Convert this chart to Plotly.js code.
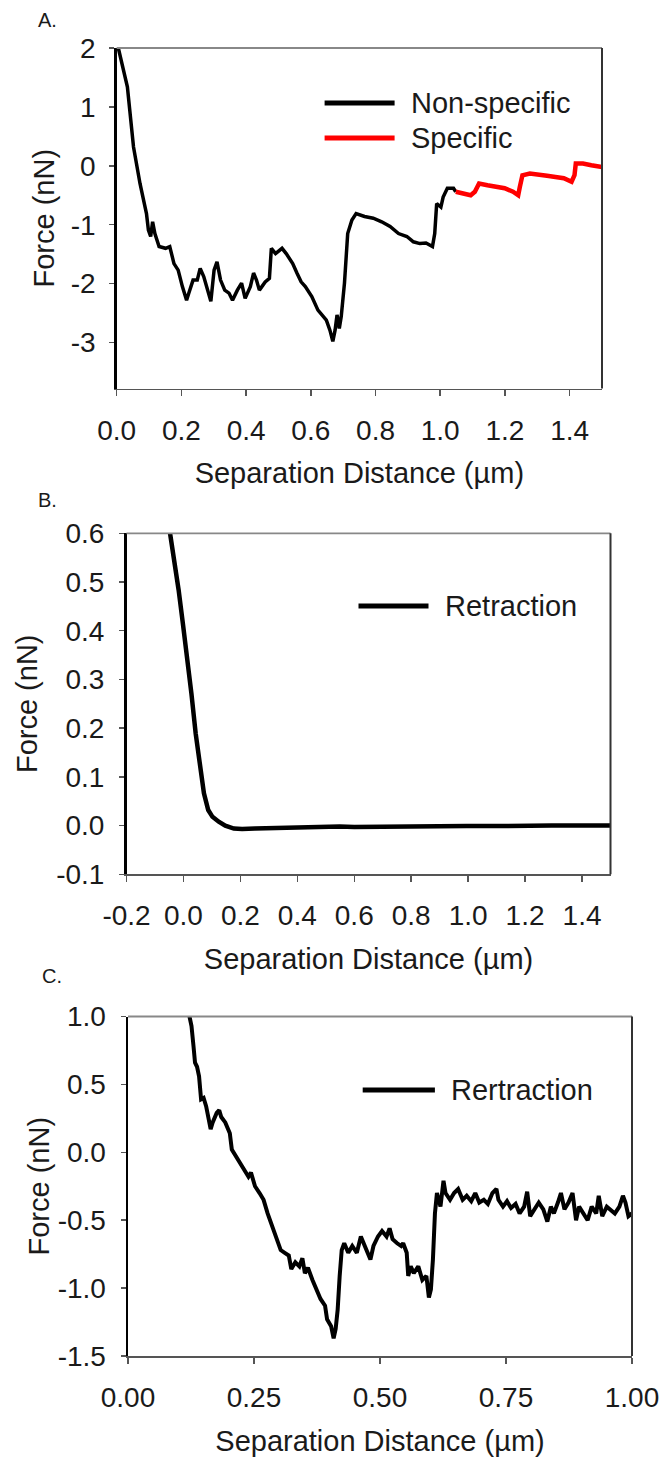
<!DOCTYPE html>
<html><head><meta charset="utf-8">
<script src="https://cdn.plot.ly/plotly-3.0.1.min.js"></script>
<style>html,body{margin:0;padding:0;background:#fff}#chart{width:665px;height:1461px}</style>
</head><body><div id="chart"></div>
<script>
// ---------- Panel A data ----------
const A_nonspecific_x = [0.005,0.015,0.033,0.052,0.072,0.092,0.098,0.105,0.111,0.118,0.131,0.151,0.164,0.177,0.19,0.203,0.216,0.223,0.236,0.249,0.258,0.269,0.282,0.291,0.301,0.31,0.321,0.334,0.347,0.358,0.373,0.386,0.397,0.413,0.423,0.432,0.441,0.459,0.472,0.478,0.491,0.511,0.524,0.544,0.557,0.57,0.583,0.603,0.622,0.635,0.648,0.659,0.668,0.675,0.681,0.688,0.694,0.704,0.714,0.727,0.74,0.766,0.793,0.819,0.845,0.871,0.897,0.917,0.937,0.956,0.976,0.983,0.989,1.002,1.009,1.022,1.041,1.048];
const A_nonspecific_y = [2.0,1.75,1.34,0.32,-0.30,-0.81,-1.09,-1.20,-0.95,-1.15,-1.37,-1.40,-1.37,-1.66,-1.77,-2.05,-2.28,-2.16,-1.94,-1.94,-1.74,-1.88,-2.16,-2.30,-1.77,-1.63,-1.94,-2.11,-2.16,-2.28,-2.11,-1.99,-2.25,-2.05,-1.82,-1.94,-2.11,-1.97,-1.91,-1.40,-1.49,-1.40,-1.49,-1.66,-1.82,-1.97,-2.05,-2.22,-2.45,-2.53,-2.62,-2.79,-2.98,-2.79,-2.53,-2.76,-2.56,-1.99,-1.15,-0.92,-0.81,-0.86,-0.89,-0.95,-1.03,-1.15,-1.20,-1.29,-1.32,-1.31,-1.37,-1.15,-0.64,-0.70,-0.53,-0.38,-0.38,-0.44];
const A_specific_x = [1.048,1.068,1.094,1.107,1.12,1.146,1.173,1.199,1.225,1.241,1.246,1.254,1.277,1.304,1.33,1.356,1.382,1.406,1.415,1.419,1.441,1.467,1.5];
const A_specific_y = [-0.44,-0.47,-0.50,-0.44,-0.30,-0.33,-0.36,-0.38,-0.44,-0.50,-0.36,-0.16,-0.13,-0.16,-0.17,-0.19,-0.21,-0.27,-0.16,0.04,0.04,0.01,-0.02];
const A_xtickvals = [0,0.2,0.4,0.6,0.8,1.0,1.2,1.4];
const A_xticktext = ["0.0","0.2","0.4","0.6","0.8","1.0","1.2","1.4"];
const A_ytickvals = [-3,-2,-1,0,1,2];
const A_yticktext = ["-3","-2","-1","0","1","2"];
const A_names = ["Non-specific","Specific"];

// ---------- Panel B data ----------
const B_x = [-0.047,-0.032,-0.017,-0.002,0.013,0.028,0.043,0.057,0.072,0.087,0.102,0.124,0.147,0.177,0.206,0.251,0.30,0.40,0.50,0.549,0.60,0.697,0.80,0.846,0.90,0.995,1.05,1.144,1.20,1.293,1.40,1.5];
const B_y = [0.6,0.545,0.484,0.415,0.347,0.271,0.189,0.121,0.066,0.032,0.018,0.008,0.0,-0.006,-0.007,-0.006,-0.005,-0.004,-0.003,-0.002,-0.003,-0.002,-0.002,-0.001,-0.002,-0.001,-0.001,0.0,-0.001,0.0,0.0,0.0];
const B_xtickvals = [-0.2,0,0.2,0.4,0.6,0.8,1.0,1.2,1.4];
const B_xticktext = ["-0.2","0.0","0.2","0.4","0.6","0.8","1.0","1.2","1.4"];
const B_ytickvals = [-0.1,0,0.1,0.2,0.3,0.4,0.5,0.6];
const B_yticktext = ["-0.1","0.0","0.1","0.2","0.3","0.4","0.5","0.6"];
const B_name = "Retraction";

// ---------- Panel C data ----------
const C_x = [0.122,0.126,0.13,0.133,0.137,0.141,0.145,0.15,0.155,0.16,0.164,0.168,0.176,0.181,0.185,0.193,0.202,0.206,0.214,0.223,0.231,0.239,0.244,0.252,0.261,0.269,0.277,0.286,0.294,0.303,0.311,0.319,0.324,0.332,0.34,0.346,0.351,0.357,0.366,0.374,0.382,0.391,0.395,0.403,0.408,0.412,0.416,0.42,0.424,0.429,0.437,0.445,0.454,0.462,0.469,0.475,0.481,0.487,0.496,0.504,0.513,0.519,0.525,0.534,0.542,0.546,0.553,0.556,0.561,0.567,0.576,0.584,0.592,0.597,0.601,0.605,0.609,0.613,0.62,0.626,0.63,0.639,0.647,0.655,0.664,0.672,0.681,0.689,0.697,0.706,0.714,0.723,0.731,0.735,0.744,0.752,0.76,0.769,0.777,0.786,0.792,0.798,0.807,0.815,0.824,0.832,0.839,0.845,0.853,0.859,0.866,0.874,0.882,0.889,0.895,0.903,0.912,0.92,0.929,0.934,0.941,0.95,0.958,0.966,0.975,0.982,0.987,0.993,1.0];
const C_y = [1.0,0.93,0.78,0.66,0.63,0.56,0.39,0.40,0.34,0.24,0.17,0.22,0.29,0.31,0.26,0.22,0.14,0.02,-0.03,-0.08,-0.13,-0.18,-0.15,-0.25,-0.30,-0.35,-0.45,-0.54,-0.62,-0.72,-0.74,-0.76,-0.86,-0.81,-0.84,-0.78,-0.89,-0.85,-0.94,-1.01,-1.08,-1.13,-1.23,-1.28,-1.37,-1.30,-1.16,-0.91,-0.72,-0.67,-0.74,-0.69,-0.74,-0.62,-0.69,-0.74,-0.79,-0.69,-0.62,-0.58,-0.62,-0.56,-0.64,-0.67,-0.69,-0.67,-0.74,-0.91,-0.84,-0.89,-0.84,-0.94,-0.91,-1.07,-1.01,-0.79,-0.45,-0.30,-0.40,-0.21,-0.30,-0.35,-0.30,-0.27,-0.35,-0.32,-0.36,-0.30,-0.37,-0.35,-0.38,-0.30,-0.27,-0.35,-0.40,-0.36,-0.41,-0.38,-0.45,-0.40,-0.29,-0.47,-0.41,-0.37,-0.42,-0.51,-0.40,-0.45,-0.37,-0.30,-0.42,-0.37,-0.30,-0.50,-0.40,-0.45,-0.50,-0.40,-0.45,-0.32,-0.47,-0.40,-0.43,-0.45,-0.40,-0.32,-0.37,-0.47,-0.45];
const C_xtickvals = [0,0.25,0.5,0.75,1.0];
const C_xticktext = ["0.00","0.25","0.50","0.75","1.00"];
const C_ytickvals = [-1.5,-1.0,-0.5,0,0.5,1.0];
const C_yticktext = ["-1.5","-1.0","-0.5","0.0","0.5","1.0"];
const C_name = "Rertraction";

const axisTitleX = "Separation Distance (\u00b5m)";
const axisTitleY = "Force (nN)";
const panelLabels = ["A.","B.","C."];

// ---------- layout helpers ----------
const W = 665, H = 1461;
const fx = p => p / W;
const fy = p => 1 - p / H;
const FONT = '"Liberation Sans", Arial, Helvetica, sans-serif';
const TXT = '#1a1a1a';

function xAxis(dom, range, tv, tt, anchor) {
  return {domain: dom, range: range, anchor: anchor, tickmode: 'array', tickvals: tv, ticktext: tt,
    showgrid: false, zeroline: false, showline: true, linecolor: '#555', linewidth: 1.5,
    ticks: 'outside', ticklen: 6, tickwidth: 1.5, tickcolor: '#555', ticklabelstandoff: 10,
    tickfont: {family: FONT, size: 28, color: TXT},
    title: {text: axisTitleX, font: {family: FONT, size: 29, color: TXT}, standoff: 18},
    fixedrange: true};
}
function yAxis(dom, range, tv, tt, anchor, standoff, lso) {
  return {domain: dom, range: range, anchor: anchor, tickmode: 'array', tickvals: tv, ticktext: tt,
    showgrid: false, zeroline: false, showline: true, linecolor: '#000', linewidth: 2.5,
    ticks: 'outside', ticklen: 5, tickwidth: 1.5, tickcolor: '#555', ticklabelstandoff: lso,
    tickfont: {family: FONT, size: 28, color: TXT},
    title: {text: axisTitleY, font: {family: FONT, size: 29, color: TXT}, standoff: standoff},
    fixedrange: true};
}

const traces = [
  {x: A_nonspecific_x, y: A_nonspecific_y, name: A_names[0], mode: 'lines', line: {color: '#000', width: 3.5}, xaxis: 'x', yaxis: 'y', showlegend: false},
  {x: A_specific_x, y: A_specific_y, name: A_names[1], mode: 'lines', line: {color: '#ff0000', width: 4.5}, xaxis: 'x', yaxis: 'y', showlegend: false},
  {x: B_x, y: B_y, name: B_name, mode: 'lines', line: {color: '#000', width: 4.5}, xaxis: 'x2', yaxis: 'y2', showlegend: false},
  {x: C_x, y: C_y, name: C_name, mode: 'lines', line: {color: '#000', width: 4}, xaxis: 'x3', yaxis: 'y3', showlegend: false}
];

// frame pixel boxes
const boxA = {l: 116.7, r: 602, t: 48, b: 388.5};
const boxB = {l: 126.5, r: 610.5, t: 533.3, b: 874.3};
const boxC = {l: 128, r: 632, t: 1016.5, b: 1356};

function frame(ax, ay) {
  return [
    {type: 'line', xref: ax + ' domain', yref: ay + ' domain', x0: 0, x1: 1, y0: 1, y1: 1, line: {color: '#888', width: 1.8}},
    {type: 'line', xref: ax + ' domain', yref: ay + ' domain', x0: 1, x1: 1, y0: 0, y1: 1, line: {color: '#333', width: 2}}
  ];
}
function legendKey(x0, x1, y, color) {
  return {type: 'line', xref: 'paper', yref: 'paper', x0: fx(x0), x1: fx(x1), y0: fy(y), y1: fy(y), line: {color: color, width: 5}};
}
function legendText(x, y, text) {
  return {xref: 'paper', yref: 'paper', x: fx(x), y: fy(y), xanchor: 'left', yanchor: 'middle', showarrow: false,
    text: text, font: {family: FONT, size: 29, color: TXT}};
}
function panelLabel(x, y, text) {
  return {xref: 'paper', yref: 'paper', x: fx(x), y: fy(y), xanchor: 'left', yanchor: 'middle', showarrow: false,
    text: text, font: {family: FONT, size: 20, color: TXT}};
}

const layout = {
  width: W, height: H, margin: {l: 0, r: 0, t: 0, b: 0},
  paper_bgcolor: '#fff', plot_bgcolor: '#fff', showlegend: false,
  xaxis: xAxis([fx(boxA.l), fx(boxA.r)], [0, 1.5], A_xtickvals, A_xticktext, 'y'),
  yaxis: yAxis([fy(boxA.b), fy(boxA.t)], [-3.78, 2], A_ytickvals, A_yticktext, 'x', 8, 8),
  xaxis2: xAxis([fx(boxB.l), fx(boxB.r)], [-0.2, 1.5], B_xtickvals, B_xticktext, 'y2'),
  yaxis2: yAxis([fy(boxB.b), fy(boxB.t)], [-0.1, 0.6], B_ytickvals, B_yticktext, 'x2', 10, 9),
  xaxis3: xAxis([fx(boxC.l), fx(boxC.r)], [0, 1.0], C_xtickvals, C_xticktext, 'y3'),
  yaxis3: yAxis([fy(boxC.b), fy(boxC.t)], [-1.5, 1.0], C_ytickvals, C_yticktext, 'x3', 0, 9),
  shapes: [].concat(frame('x', 'y'), frame('x2', 'y2'), frame('x3', 'y3'), [
    legendKey(324.6, 394.6, 103, '#000'),
    legendKey(324.6, 394.6, 138, '#ff0000'),
    legendKey(358.5, 428.5, 606, '#000'),
    legendKey(362.7, 434.9, 1090, '#000')
  ]),
  annotations: [
    legendText(409, 103, A_names[0]),
    legendText(409, 138, A_names[1]),
    legendText(443, 606, B_name),
    legendText(449, 1090, C_name),
    panelLabel(36, 20, panelLabels[0]),
    panelLabel(36, 500, panelLabels[1]),
    panelLabel(40, 976, panelLabels[2])
  ]
};

Plotly.newPlot('chart', traces, layout, {staticPlot: true, displayModeBar: false});
</script>
</body></html>
